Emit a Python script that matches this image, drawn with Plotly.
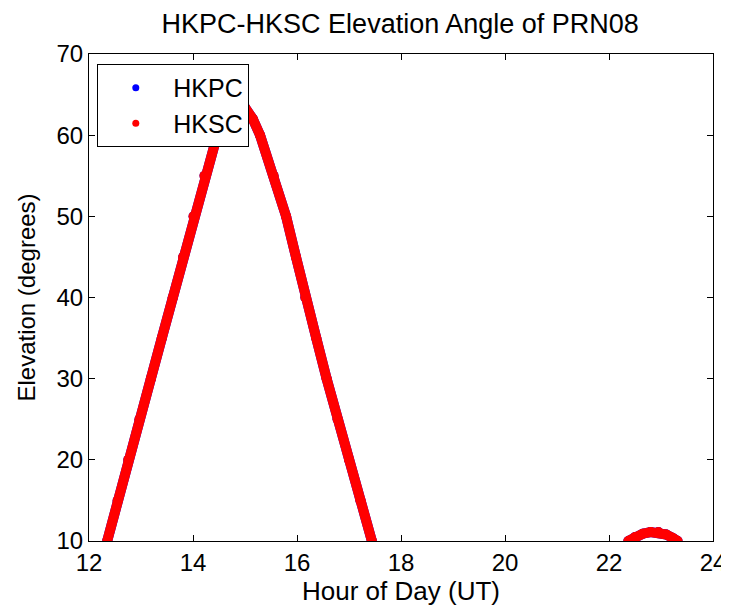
import plotly.graph_objects as go

# elevation pass 1 (hour UT, degrees)
pass1_hour = [12.35, 12.55, 12.755, 12.97, 13.19, 13.40, 13.61, 13.81, 14.01, 14.22,
              14.43, 14.55, 14.70, 14.86, 15.00, 15.15, 15.29, 15.55, 15.79, 15.98,
              16.16, 16.37, 16.57, 16.78, 17.00, 17.22, 17.44]
pass1_elev = [10, 15, 20, 25, 30, 35, 40, 45, 50, 55,
              60, 62, 63.3, 63.7, 63.4, 62, 60, 55, 50, 45,
              40, 35, 30, 25, 20, 15, 10]
# elevation pass 2
pass2_hour = [22.37, 22.50, 22.65, 22.80, 22.95, 23.10, 23.22, 23.32]
pass2_elev = [10, 10.5, 10.9, 11.1, 11.1, 10.8, 10.4, 10]

stations = ["HKPC", "HKSC"]
colors = ["#0000ff", "#ff0000"]

font = "Arial, Liberation Sans, sans-serif"

fig = go.Figure()
for name, col in zip(stations, colors):
    # legend entry (small dot), hidden beneath the thick track
    fig.add_trace(go.Scatter(
        x=pass1_hour + [None] + pass2_hour,
        y=pass1_elev + [None] + pass2_elev,
        mode="markers",
        marker=dict(color=col, size=7),
        name=name,
    ))
    for hrs, el in [(pass1_hour, pass1_elev), (pass2_hour, pass2_elev)]:
        fig.add_trace(go.Scatter(
            x=hrs, y=el, mode="lines+markers",
            line=dict(color=col, width=10),
            marker=dict(color=col, size=10),
            showlegend=False, hoverinfo="skip",
        ))

# page body has an 8px margin, so the figure is sized to the visible area
fig.update_layout(
    width=721,
    height=603,
    margin=dict(l=81, r=16, t=46, b=70),
    paper_bgcolor="white",
    plot_bgcolor="white",
    font=dict(family=font, color="black"),
    title=dict(text="HKPC-HKSC Elevation Angle of PRN08", x=0.544, xanchor="center",
               y=0.9735, yanchor="middle", font=dict(size=27)),
    showlegend=True,
    legend=dict(x=0.0133, y=0.9795, xanchor="left", yanchor="top",
                bgcolor="white", bordercolor="black", borderwidth=1,
                font=dict(size=25), itemwidth=65),
    xaxis=dict(
        range=[12, 24], tickvals=[12, 14, 16, 18, 20, 22, 24],
        showgrid=False, zeroline=False, automargin=False,
        showline=True, linecolor="black", linewidth=1, mirror="ticks",
        ticks="inside", ticklen=6, tickcolor="black",
        tickfont=dict(size=24),
        title=dict(text="Hour of Day (UT)", font=dict(size=26), standoff=4),
    ),
    yaxis=dict(
        range=[10, 70], tickvals=[10, 20, 30, 40, 50, 60, 70],
        showgrid=False, zeroline=False, automargin=False,
        showline=True, linecolor="black", linewidth=1, mirror="ticks",
        ticks="inside", ticklen=6, tickcolor="black",
        tickfont=dict(size=24),
        title=dict(text="Elevation (degrees)", font=dict(size=24), standoff=14),
    ),
)

fig.write_html("out.html")
